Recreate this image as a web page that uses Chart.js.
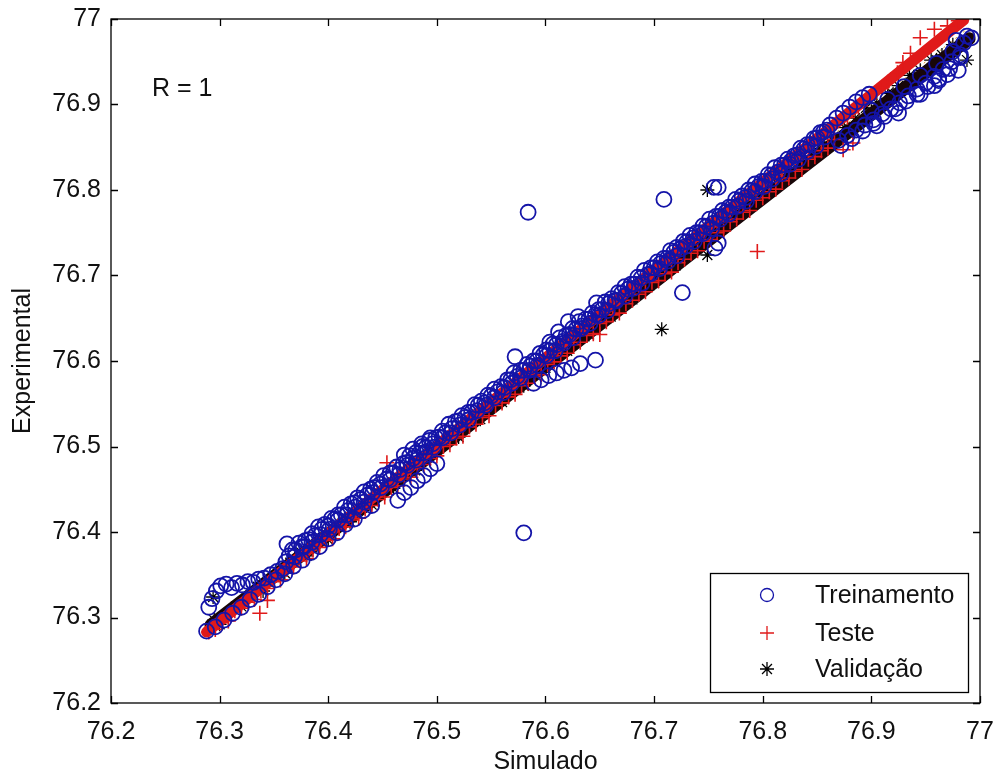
<!DOCTYPE html>
<html>
<head>
<meta charset="utf-8">
<title>Simulado x Experimental</title>
<script src="https://cdn.jsdelivr.net/npm/chart.js"></script>
<style>
  html, body { margin: 0; padding: 0; background: #ffffff; }
  #wrap { width: 997px; height: 776px; }
</style>
</head>
<body>
<div id="wrap"><canvas id="c" width="997" height="776"></canvas></div>
<script>
// Axis ticks (both axes share the same range)
const tickValues = [76.2, 76.3, 76.4, 76.5, 76.6, 76.7, 76.8, 76.9, 77.0];
const tickLabels = ['76.2', '76.3', '76.4', '76.5', '76.6', '76.7', '76.8', '76.9', '77'];

// Treinamento: simulated (x) vs experimental (y)
const trainX = [
  76.290, 76.293, 76.297, 76.301, 76.306, 76.311, 76.316, 76.321, 76.326, 76.331, 76.336, 76.341, 76.347, 76.353, 76.358, 76.362,
  76.288, 76.296, 76.304, 76.312, 76.320, 76.328, 76.336, 76.344, 76.352, 76.360, 76.368, 76.376, 76.384, 76.392, 76.400, 76.408, 76.416, 76.424, 76.432, 76.440,
  76.364, 76.370, 76.376, 76.382, 76.388, 76.394, 76.400, 76.406, 76.412, 76.418, 76.424, 76.430, 76.436, 76.442, 76.448, 76.454, 76.460, 76.466, 76.472, 76.478,
  76.484, 76.490, 76.496, 76.502, 76.508, 76.514, 76.520, 76.526, 76.532, 76.538, 76.544, 76.550, 76.556, 76.562, 76.568, 76.574, 76.580, 76.586, 76.592, 76.598,
  76.604, 76.610, 76.616, 76.622, 76.628, 76.634, 76.640, 76.646, 76.652, 76.658, 76.664, 76.670, 76.676, 76.682, 76.688, 76.694, 76.700, 76.706, 76.712, 76.718,
  76.724, 76.730, 76.736, 76.742, 76.748, 76.754, 76.760, 76.766, 76.772, 76.778, 76.784, 76.790, 76.796, 76.802, 76.808, 76.814, 76.820, 76.826, 76.832, 76.838,
  76.844, 76.850, 76.856, 76.862,
  76.367, 76.373, 76.379, 76.385, 76.391, 76.397, 76.403, 76.409, 76.415, 76.421,
  76.427, 76.433, 76.439, 76.445, 76.451, 76.457, 76.463, 76.469, 76.475, 76.481,
  76.487, 76.493, 76.499, 76.505, 76.511, 76.517, 76.523, 76.529, 76.535, 76.541,
  76.547, 76.553, 76.559, 76.565, 76.571, 76.577, 76.583, 76.589, 76.595, 76.601,
  76.607, 76.613, 76.619, 76.625, 76.631, 76.637, 76.643, 76.649, 76.655, 76.661,
  76.667, 76.673, 76.679, 76.685, 76.691, 76.697, 76.703, 76.709, 76.715, 76.721,
  76.727, 76.733, 76.739, 76.745, 76.751, 76.757, 76.763, 76.769, 76.775, 76.781,
  76.787, 76.793, 76.799, 76.805, 76.811, 76.817, 76.823, 76.829, 76.835, 76.841,
  76.847, 76.853, 76.859,
  76.361, 76.369, 76.377, 76.385, 76.393, 76.401, 76.409, 76.417, 76.425, 76.433,
  76.441, 76.449, 76.457, 76.465, 76.473, 76.481, 76.489, 76.497, 76.505, 76.513,
  76.521, 76.529, 76.537, 76.545, 76.553, 76.561, 76.569, 76.577, 76.585, 76.593,
  76.601, 76.609, 76.617, 76.625, 76.633, 76.641, 76.649, 76.657, 76.665, 76.673,
  76.681, 76.689, 76.697, 76.705, 76.713, 76.721, 76.729, 76.737, 76.745, 76.753,
  76.761, 76.769, 76.777, 76.785, 76.793, 76.801, 76.809, 76.817, 76.825, 76.833,
  76.841, 76.849, 76.857,
  76.868, 76.874, 76.880, 76.886, 76.892, 76.898,
  76.870, 76.878, 76.886, 76.894, 76.902, 76.910, 76.918, 76.926, 76.934, 76.942, 76.950, 76.958, 76.966, 76.974, 76.982,
  76.872, 76.882, 76.892, 76.902, 76.912, 76.922, 76.932, 76.942, 76.952, 76.962, 76.972, 76.982,
  76.905, 76.925, 76.945, 76.958,
  76.900, 76.915, 76.930, 76.945, 76.960, 76.975, 76.985, 76.988, 76.978, 76.992, 76.970, 76.980, 76.962,
  76.604, 76.621, 76.647, 76.572, 76.612, 76.630,
  76.589, 76.596, 76.603, 76.610, 76.617, 76.624, 76.632,
  76.464, 76.470, 76.476, 76.482, 76.488, 76.494, 76.500,
  76.470, 76.478, 76.486, 76.494,
  76.584, 76.580, 76.709, 76.755, 76.759, 76.726, 76.646, 76.756, 76.759
];
const trainY = [
  76.312, 76.322, 76.331, 76.337, 76.339, 76.335, 76.340, 76.338, 76.342, 76.341, 76.345, 76.346, 76.350, 76.354, 76.357, 76.386,
  76.284, 76.289, 76.297, 76.305, 76.312, 76.321, 76.327, 76.336, 76.344, 76.351, 76.360, 76.367, 76.376, 76.383, 76.392, 76.399, 76.409, 76.415, 76.425, 76.431,
  76.372, 76.379, 76.383, 76.391, 76.396, 76.403, 76.407, 76.415, 76.420, 76.425, 76.434, 76.438, 76.443, 76.452, 76.456, 76.462, 76.469, 76.473, 76.481, 76.486,
  76.492, 76.499, 76.503, 76.511, 76.516, 76.521, 76.530, 76.534, 76.540, 76.548, 76.551, 76.559, 76.564, 76.569, 76.578, 76.582, 76.589, 76.594, 76.600, 76.607,
  76.612, 76.619, 76.623, 76.631, 76.637, 76.641, 76.649, 76.654, 76.660, 76.667, 76.671, 76.679, 76.684, 76.690, 76.697, 76.701, 76.709, 76.714, 76.720, 76.727,
  76.731, 76.739, 76.744, 76.750, 76.757, 76.761, 76.769, 76.774, 76.780, 76.787, 76.791, 76.799, 76.804, 76.810, 76.817, 76.821, 76.829, 76.834, 76.841, 76.848,
  76.853, 76.861, 76.868, 76.876,
  76.379, 76.387, 76.390, 76.398, 76.406, 76.409, 76.416, 76.420, 76.429, 76.433,
  76.440, 76.447, 76.450, 76.458, 76.466, 76.469, 76.476, 76.480, 76.489, 76.493,
  76.500, 76.507, 76.510, 76.518, 76.526, 76.529, 76.536, 76.540, 76.549, 76.553,
  76.560, 76.567, 76.570, 76.578, 76.586, 76.589, 76.596, 76.600, 76.609, 76.613,
  76.620, 76.627, 76.630, 76.638, 76.646, 76.649, 76.656, 76.660, 76.669, 76.673,
  76.680, 76.687, 76.690, 76.698, 76.706, 76.709, 76.716, 76.720, 76.729, 76.733,
  76.740, 76.747, 76.750, 76.758, 76.766, 76.769, 76.776, 76.780, 76.789, 76.793,
  76.800, 76.807, 76.810, 76.818, 76.826, 76.829, 76.836, 76.840, 76.849, 76.853,
  76.860, 76.867, 76.870,
  76.365, 76.371, 76.382, 76.388, 76.397, 76.403, 76.414, 76.420, 76.429, 76.435,
  76.446, 76.452, 76.461, 76.467, 76.478, 76.484, 76.493, 76.499, 76.510, 76.516,
  76.525, 76.531, 76.542, 76.548, 76.557, 76.563, 76.574, 76.580, 76.589, 76.595,
  76.606, 76.612, 76.621, 76.627, 76.638, 76.644, 76.653, 76.659, 76.670, 76.676,
  76.685, 76.691, 76.702, 76.708, 76.717, 76.723, 76.734, 76.740, 76.749, 76.755,
  76.766, 76.772, 76.781, 76.787, 76.798, 76.804, 76.813, 76.819, 76.830, 76.836,
  76.845, 76.851, 76.862,
  76.884, 76.890, 76.897, 76.903, 76.908, 76.912,
  76.858, 76.864, 76.870, 76.876, 76.882, 76.889, 76.895, 76.902, 76.910, 76.918, 76.925, 76.933, 76.941, 76.950, 76.958,
  76.852, 76.860, 76.869, 76.878, 76.886, 76.895, 76.904, 76.912, 76.921, 76.930, 76.942, 76.955,
  76.875, 76.890, 76.912, 76.922,
  76.893, 76.906, 76.921, 76.934, 76.948, 76.962, 76.972, 76.980, 76.975, 76.978, 76.935, 76.940, 76.928,
  76.622, 76.646, 76.668, 76.605, 76.634, 76.652,
  76.574, 76.578, 76.583, 76.586, 76.589, 76.592, 76.597,
  76.437, 76.446, 76.452, 76.460, 76.466, 76.474, 76.480,
  76.490, 76.497, 76.503, 76.510,
  76.774, 76.399, 76.789, 76.803, 76.803, 76.680, 76.601, 76.732, 76.738
];

// Teste
const testX = [
  76.290, 76.302, 76.314, 76.326, 76.338, 76.350, 76.362, 76.374, 76.386, 76.398, 76.410, 76.422, 76.434, 76.446, 76.458, 76.470, 76.482, 76.494, 76.506, 76.518,
  76.530, 76.542, 76.554, 76.566, 76.578, 76.590, 76.602, 76.614, 76.626, 76.638, 76.650, 76.662, 76.674, 76.686, 76.698, 76.710, 76.722, 76.734, 76.746, 76.758,
  76.770, 76.782, 76.794, 76.806, 76.818, 76.830, 76.842, 76.854, 76.866,
  76.296, 76.308, 76.320, 76.332, 76.344, 76.356, 76.368, 76.380, 76.392, 76.404,
  76.416, 76.428, 76.440, 76.452, 76.464, 76.476, 76.488, 76.500, 76.512, 76.524,
  76.536, 76.548, 76.560, 76.572, 76.584, 76.596, 76.608, 76.620, 76.632, 76.644,
  76.656, 76.668, 76.680, 76.692, 76.704, 76.716, 76.728, 76.740, 76.752, 76.764,
  76.776, 76.788, 76.800, 76.812, 76.824, 76.836, 76.848, 76.860,
  76.878, 76.888, 76.896, 76.904, 76.910, 76.915, 76.924, 76.929, 76.936, 76.945, 76.958, 76.970, 76.980,
  76.337, 76.344, 76.454, 76.650, 76.795, 76.813, 76.874, 76.883
];
const testY = [
  76.283, 76.294, 76.308, 76.318, 76.331, 76.342, 76.356, 76.366, 76.379, 76.390, 76.404, 76.414, 76.427, 76.438, 76.452, 76.462, 76.475, 76.486, 76.500, 76.510,
  76.523, 76.534, 76.548, 76.558, 76.571, 76.582, 76.596, 76.606, 76.619, 76.630, 76.644, 76.654, 76.667, 76.678, 76.692, 76.702, 76.715, 76.726, 76.740, 76.750,
  76.763, 76.774, 76.788, 76.798, 76.811, 76.822, 76.836, 76.846, 76.859,
  76.286, 76.296, 76.311, 76.321, 76.334, 76.344, 76.359, 76.369, 76.382, 76.392,
  76.406, 76.416, 76.431, 76.441, 76.454, 76.464, 76.479, 76.489, 76.502, 76.512,
  76.526, 76.536, 76.551, 76.561, 76.574, 76.584, 76.599, 76.609, 76.622, 76.632,
  76.646, 76.656, 76.671, 76.681, 76.694, 76.704, 76.719, 76.729, 76.742, 76.752,
  76.766, 76.776, 76.791, 76.801, 76.814, 76.824, 76.839, 76.849,
  76.885, 76.897, 76.906, 76.914, 76.920, 76.926, 76.937, 76.949, 76.960, 76.978, 76.988, 76.992, 76.998,
  76.305, 76.320, 76.481, 76.631, 76.728, 76.816, 76.847, 76.855
];

// Validação
const valX = [
  76.295, 76.315, 76.335, 76.355, 76.375, 76.395, 76.415, 76.435, 76.455, 76.475, 76.495, 76.515, 76.535, 76.555, 76.575, 76.595, 76.615, 76.635,
  76.655, 76.675, 76.695, 76.715, 76.735, 76.755, 76.775, 76.795, 76.815, 76.835, 76.855, 76.875, 76.895, 76.915, 76.935, 76.955, 76.975,
  76.305, 76.325, 76.345, 76.365, 76.385, 76.405, 76.425, 76.445, 76.465, 76.485,
  76.505, 76.525, 76.545, 76.565, 76.585, 76.605, 76.625, 76.645, 76.665, 76.685,
  76.705, 76.725, 76.745, 76.765, 76.785, 76.805, 76.825, 76.845, 76.865, 76.885,
  76.905, 76.925, 76.945, 76.965,
  76.300, 76.320, 76.340, 76.360, 76.380, 76.400, 76.420, 76.440, 76.460, 76.480,
  76.500, 76.520, 76.540, 76.560, 76.580, 76.600, 76.620, 76.640, 76.660, 76.680,
  76.700, 76.720, 76.740, 76.760, 76.780, 76.800, 76.820, 76.840, 76.860, 76.880,
  76.900, 76.920, 76.940, 76.960,
  76.294, 76.749, 76.749, 76.707, 76.988
];
const valY = [
  76.297, 76.313, 76.336, 76.353, 76.376, 76.393, 76.416, 76.433, 76.456, 76.473, 76.496, 76.513, 76.536, 76.553, 76.576, 76.593, 76.616, 76.633,
  76.656, 76.673, 76.696, 76.713, 76.736, 76.753, 76.776, 76.793, 76.816, 76.833, 76.856, 76.873, 76.896, 76.913, 76.934, 76.952, 76.970,
  76.302, 76.324, 76.342, 76.364, 76.382, 76.404, 76.422, 76.444, 76.462, 76.484,
  76.502, 76.524, 76.542, 76.564, 76.582, 76.604, 76.622, 76.644, 76.662, 76.684,
  76.702, 76.724, 76.742, 76.764, 76.782, 76.804, 76.822, 76.844, 76.862, 76.884,
  76.902, 76.922, 76.940, 76.958,
  76.292, 76.313, 76.331, 76.352, 76.372, 76.391, 76.412, 76.432, 76.451, 76.472,
  76.492, 76.511, 76.532, 76.552, 76.571, 76.592, 76.612, 76.631, 76.652, 76.672,
  76.691, 76.712, 76.732, 76.751, 76.772, 76.792, 76.811, 76.832, 76.852, 76.871,
  76.892, 76.912, 76.931, 76.952,
  76.324, 76.800, 76.724, 76.637, 76.952
];

// Fitted lines and the Y = T reference
const testFitX = [76.288, 76.985];
const testFitY = [76.283, 76.999];
const valFitX = [76.292, 76.990];
const valFitY = [76.291, 76.977];
const idealX = [76.290, 76.990];
const idealY = [76.290, 76.990];

const legendLabels = ['Treinamento', 'Teste', 'Validação'];
const rLabel = 'R = 1';
const xTitle = 'Simulado';
const yTitle = 'Experimental';

const BLUE = '#1414a8';
const RED = '#e01a1a';
const BLACK = '#000000';
const TEXT = '#111111';
const FONT = '"Liberation Sans", Arial, sans-serif';
const FONT_SIZE = 25;

const pts = (xs, ys) => xs.map((x, i) => ({ x: x, y: ys[i] }));

// Box, inward ticks, tick labels, titles, annotation and legend
const framePlugin = {
  id: 'frame',
  afterDraw(chart) {
    const { ctx, chartArea: a, scales } = chart;
    const xs = scales.x, ys = scales.y;
    ctx.save();
    ctx.strokeStyle = '#000';
    ctx.lineWidth = 1.3;
    ctx.strokeRect(a.left, a.top, a.right - a.left, a.bottom - a.top);
    const tl = 7;
    ctx.beginPath();
    tickValues.forEach(v => {
      const px = Math.round(xs.getPixelForValue(v)) + 0.5;
      ctx.moveTo(px, a.bottom); ctx.lineTo(px, a.bottom - tl);
      ctx.moveTo(px, a.top); ctx.lineTo(px, a.top + tl);
      const py = Math.round(ys.getPixelForValue(v)) + 0.5;
      ctx.moveTo(a.left, py); ctx.lineTo(a.left + tl, py);
      ctx.moveTo(a.right, py); ctx.lineTo(a.right - tl, py);
    });
    ctx.stroke();

    // tick labels
    ctx.fillStyle = TEXT;
    ctx.font = FONT_SIZE + 'px ' + FONT;
    ctx.textBaseline = 'middle';
    ctx.textAlign = 'center';
    tickValues.forEach((v, i) => ctx.fillText(tickLabels[i], xs.getPixelForValue(v), a.bottom + 29));
    ctx.textAlign = 'right';
    tickValues.forEach((v, i) => ctx.fillText(tickLabels[i], a.left - 10, ys.getPixelForValue(v)));

    // axis titles
    ctx.textAlign = 'center';
    ctx.fillText(xTitle, (a.left + a.right) / 2, 762);
    ctx.save();
    ctx.translate(23, (a.top + a.bottom) / 2);
    ctx.rotate(-Math.PI / 2);
    ctx.fillText(yTitle, 0, 0);
    ctx.restore();

    // correlation note
    ctx.textAlign = 'left';
    ctx.fillText(rLabel, 152, 89);

    // legend
    const lx = 710, ly = 573, lw = 258, lh = 119;
    ctx.fillStyle = '#ffffff';
    ctx.fillRect(lx, ly, lw, lh);
    ctx.lineWidth = 1.3;
    ctx.strokeStyle = '#000';
    ctx.strokeRect(lx + 0.5, ly + 0.5, lw, lh);
    const rows = [595, 633, 669];
    const mx = 767;
    ctx.strokeStyle = BLUE;
    ctx.beginPath(); ctx.arc(mx, rows[0], 6.5, 0, Math.PI * 2); ctx.stroke();
    ctx.strokeStyle = RED;
    ctx.beginPath();
    ctx.moveTo(mx - 7, rows[1]); ctx.lineTo(mx + 7, rows[1]);
    ctx.moveTo(mx, rows[1] - 7); ctx.lineTo(mx, rows[1] + 7);
    ctx.stroke();
    ctx.strokeStyle = BLACK;
    ctx.beginPath();
    const r = 7, d = r * Math.SQRT1_2;
    ctx.moveTo(mx - r, rows[2]); ctx.lineTo(mx + r, rows[2]);
    ctx.moveTo(mx, rows[2] - r); ctx.lineTo(mx, rows[2] + r);
    ctx.moveTo(mx - d, rows[2] - d); ctx.lineTo(mx + d, rows[2] + d);
    ctx.moveTo(mx - d, rows[2] + d); ctx.lineTo(mx + d, rows[2] - d);
    ctx.stroke();
    ctx.fillStyle = TEXT;
    ctx.textAlign = 'left';
    legendLabels.forEach((t, i) => ctx.fillText(t, 815, rows[i] + 1));
    ctx.restore();
  }
};

new Chart(document.getElementById('c'), {
  type: 'scatter',
  data: {
    datasets: [
      {
        label: legendLabels[0], data: pts(trainX, trainY),
        pointStyle: 'circle', pointRadius: 7.5, pointBorderWidth: 1.8,
        pointBorderColor: BLUE, pointBackgroundColor: 'rgba(0,0,0,0)'
      },
      {
        label: legendLabels[1], data: pts(testX, testY),
        pointStyle: 'cross', pointRadius: 7.5, pointBorderWidth: 1.6,
        pointBorderColor: RED, pointBackgroundColor: RED
      },
      {
        label: 'ajuste teste', data: pts(testFitX, testFitY), showLine: true,
        borderColor: RED, borderWidth: 11, pointRadius: 0, borderCapStyle: 'round'
      },
      {
        label: 'ajuste validação', data: pts(valFitX, valFitY), showLine: true,
        borderColor: '#180608', borderWidth: 13, pointRadius: 0, borderCapStyle: 'round'
      },
      {
        label: legendLabels[2], data: pts(valX, valY),
        pointStyle: 'star', pointRadius: 7, pointBorderWidth: 1.3,
        pointBorderColor: BLACK, pointBackgroundColor: BLACK
      },
      {
        label: 'Y = T', data: pts(idealX, idealY), showLine: true,
        borderColor: '#d89a28', borderWidth: 1, borderDash: [2, 3], pointRadius: 0
      }
    ]
  },
  options: {
    responsive: false,
    animation: false,
    devicePixelRatio: 1,
    layout: { padding: { top: 19, right: 17, left: 0, bottom: 0 } },
    plugins: { legend: { display: false }, tooltip: { enabled: false } },
    scales: {
      x: {
        type: 'linear', min: 76.2, max: 77,
        afterFit: s => { s.height = 73; },
        ticks: { display: false },
        grid: { display: false, drawTicks: false },
        border: { display: false }
      },
      y: {
        type: 'linear', min: 76.2, max: 77,
        afterFit: s => { s.width = 111; },
        ticks: { display: false },
        grid: { display: false, drawTicks: false },
        border: { display: false }
      }
    }
  },
  plugins: [framePlugin]
});
</script>
</body>
</html>
